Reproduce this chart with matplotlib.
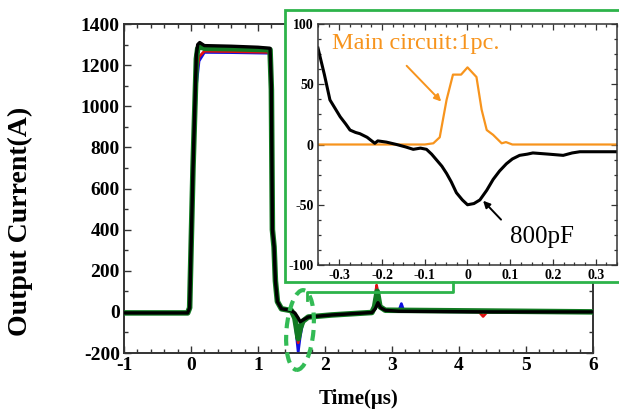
import matplotlib
matplotlib.use("Agg")
import matplotlib.pyplot as plt
from matplotlib.patches import Rectangle, Ellipse
from matplotlib.lines import Line2D
from matplotlib.ticker import MultipleLocator, FuncFormatter
from matplotlib.transforms import IdentityTransform

plt.rcParams["font.family"] = ["Liberation Serif", "DejaVu Serif"]
plt.rcParams["axes.unicode_minus"] = False

# ---- main traces (time in us, current in A) ----
t_blue = [-1.0, -0.05, -0.02, 0.03, 0.08, 0.12, 0.2, 0.6, 1.18, 1.2, 1.215, 1.24, 1.26, 1.29,
          1.35, 1.5, 1.55, 1.6, 1.63, 1.67, 1.75, 2.1, 2.7, 2.74, 2.77, 2.81, 2.9, 3.1, 3.14,
          3.18, 4.5, 6.0]
i_blue = [-5, -5, 20, 650, 1100, 1220, 1262, 1261, 1258, 1050, 380, 300, 140, 45,
          12, 5, -40, -195, -120, -50, -25, -15, -3, 30, 125, 30, 8, 3, 40,
          2, 0, 0]

t_red = [-1.0, -0.05, -0.02, 0.03, 0.08, 0.12, 0.2, 0.6, 1.18, 1.2, 1.215, 1.24, 1.26, 1.29,
         1.35, 1.5, 1.55, 1.6, 1.63, 1.67, 1.75, 2.1, 2.7, 2.74, 2.77, 2.81, 2.9, 4.3, 4.36,
         4.42, 6.0]
i_red = [-5, -5, 20, 680, 1150, 1240, 1268, 1266, 1262, 1060, 390, 310, 145, 48,
         14, 6, -35, -150, -100, -45, -25, -15, -3, 30, 130, 30, 8, 0, -22,
         0, 0]

t_green = [-1.0, -0.05, -0.02, 0.03, 0.08, 0.1, 0.13, 0.2, 0.6, 1.18, 1.2, 1.215, 1.24, 1.26,
           1.29, 1.35, 1.5, 1.55, 1.6, 1.63, 1.67, 1.75, 2.1, 2.7, 2.74, 2.78, 2.82, 2.9, 6.0]
i_green = [-5, -5, 20, 700, 1230, 1280, 1290, 1282, 1280, 1275, 1080, 400, 315, 150,
           50, 15, 6, -30, -130, -80, -45, -25, -15, -3, 25, 100, 25, 8, 0]

t_black = [-1.0, -0.05, -0.02, 0.03, 0.08, 0.1, 0.13, 0.2, 0.6, 1.0, 1.18, 1.2, 1.215, 1.24,
           1.26, 1.29, 1.35, 1.48, 1.55, 1.6, 1.63, 1.67, 1.75, 2.1, 2.7, 2.75, 2.79, 2.83,
           2.9, 3.1, 4.5, 6.0]
i_black = [-5, -5, 20, 700, 1250, 1300, 1310, 1295, 1292, 1287, 1282, 1100, 400, 320,
           150, 50, 15, 8, -5, -30, -48, -40, -25, -15, -3, 15, 45, 20,
           8, 3, 0, 0]

# ---- inset: zoom around the dip (time relative, current in A) ----
t_orange = [-0.35, -0.1, -0.08, -0.065, -0.049, -0.034, -0.015, 0.0, 0.021, 0.033, 0.045,
            0.06, 0.08, 0.09, 0.105, 0.35]
i_orange = [0, 0, 1, 6, 37, 58, 58, 64, 56, 29, 12, 8, 1, 2, 0, 0]

t_ins_black = [-0.35, -0.335, -0.322, -0.31, -0.298, -0.285, -0.275, -0.262, -0.252, -0.235,
               -0.217, -0.21, -0.19, -0.166, -0.145, -0.127, -0.11, -0.096, -0.084, -0.072,
               -0.06, -0.049, -0.038, -0.026, -0.012, 0.0, 0.015, 0.029, 0.045, 0.06,
               0.075, 0.091, 0.105, 0.122, 0.14, 0.153, 0.19, 0.224, 0.245, 0.263, 0.3, 0.35]
i_ins_black = [80, 58, 37, 30, 23, 17, 12, 10, 9, 6,
               1, 3, 2, 0, -2, -4, -3, -4, -8, -13,
               -18, -24, -31, -40, -46, -50, -49, -46, -38, -29,
               -22, -16, -12, -9, -8, -7, -8, -9, -7, -6, -6, -6]

main_xticks = [-1, 0, 1, 2, 3, 4, 5, 6]
main_yticks = [-200, 0, 200, 400, 600, 800, 1000, 1200, 1400]
ins_xticks = [-0.3, -0.2, -0.1, 0, 0.1, 0.2, 0.3]
ins_yticks = [-100, -50, 0, 50, 100]

frame_green = "#2db34a"
spine_gray = "#333333"

fig = plt.figure(figsize=(6.19, 4.11), dpi=100)
ax = fig.add_axes([0.2003, 0.1411, 0.7577, 0.8005])

ax.plot(t_blue, i_blue, color="#1010e0", lw=2.0, zorder=2)
ax.plot(t_red, i_red, color="#e01010", lw=2.0, zorder=3)
ax.plot(t_green, i_green, color="#127a22", lw=4.0, zorder=4)
ax.plot(t_black, i_black, color="black", lw=2.4, zorder=5)

ax.set_xlim(-1, 6)
ax.set_ylim(-200, 1400)
ax.set_xticks(main_xticks)
ax.set_yticks(main_yticks)
ax.xaxis.set_minor_locator(MultipleLocator(0.2))
ax.yaxis.set_minor_locator(MultipleLocator(100))
ax.tick_params(which="both", direction="in", top=True, right=True, colors=spine_gray,
               labelcolor="black", labelsize=14, width=1.0)
ax.tick_params(which="major", length=5, pad=3)
ax.tick_params(which="minor", length=3)
for lab in ax.get_xticklabels() + ax.get_yticklabels():
    lab.set_fontweight("bold")
for sp in ax.spines.values():
    sp.set_color(spine_gray)
    sp.set_linewidth(1.4)
ax.set_xlabel("Time(\u03bcs)", fontsize=15, fontweight="bold")
ax.xaxis.set_label_coords(0.50, -0.11)
ax.set_ylabel("Output Current(A)", fontsize=20, fontweight="bold")
ax.yaxis.set_label_coords(-0.194, 0.40)

# white panel with green frame behind the inset
fig.add_artist(Rectangle((285 / 619, 1 - 282 / 411), 1.02 - 285 / 619, 272 / 411,
                         transform=fig.transFigure, facecolor="white",
                         edgecolor=frame_green, lw=2.0, zorder=1))

# connector from panel to the dashed ellipse (pixel coordinates)
H = 411
px_x = [453, 453, 307, 307]
px_y = [282, 292, 292, 300]
fig.add_artist(Line2D(px_x, [H - y for y in px_y], transform=IdentityTransform(),
                      color=frame_green, lw=2.0, zorder=3))
fig.add_artist(Ellipse((300, H - 330), 27, 80, angle=-5, transform=IdentityTransform(),
                       fill=False, edgecolor="#33bb55", lw=3.0,
                       linestyle=(0, (2.6, 1.6)), zorder=3))

# inset axes
axi = fig.add_axes([0.5137, 0.3552, 0.4831, 0.5864], zorder=2)
axi.patch.set_alpha(0)
axi.plot(t_orange, i_orange, color="#f7941d", lw=1.6)
axi.plot(t_ins_black, i_ins_black, color="black", lw=2.2)
axi.set_xlim(-0.35, 0.35)
axi.set_ylim(-100, 100)
axi.set_xticks(ins_xticks)
axi.set_yticks(ins_yticks)
axi.xaxis.set_major_formatter(FuncFormatter(lambda v, p: "%g" % round(v, 2)))
axi.xaxis.set_minor_locator(MultipleLocator(0.025))
axi.yaxis.set_minor_locator(MultipleLocator(12.5))
axi.tick_params(which="both", direction="in", top=True, right=True, colors=spine_gray,
                labelcolor="black", labelsize=10, width=0.9)
axi.tick_params(which="major", length=4, pad=3)
axi.tick_params(which="minor", length=2)
for lab in axi.get_xticklabels() + axi.get_yticklabels():
    lab.set_fontweight("bold")
for sp in axi.spines.values():
    sp.set_color(spine_gray)
    sp.set_linewidth(1.1)

axi.annotate("", xy=(-0.057, 34), xytext=(-0.147, 67),
             arrowprops=dict(arrowstyle="-|>", color="#f7941d", lw=1.4,
                             mutation_scale=10))
axi.text(-0.318, 84, "Main circuit:1pc.", color="#f7941d", fontsize=17.5,
         ha="left", va="center")
axi.annotate("", xy=(0.032, -45), xytext=(0.083, -64),
             arrowprops=dict(arrowstyle="-|>", color="black", lw=1.4,
                             mutation_scale=10))
axi.text(0.1, -77, "800pF", color="black", fontsize=18, ha="left", va="center")

fig.savefig("out.png", dpi=100)
